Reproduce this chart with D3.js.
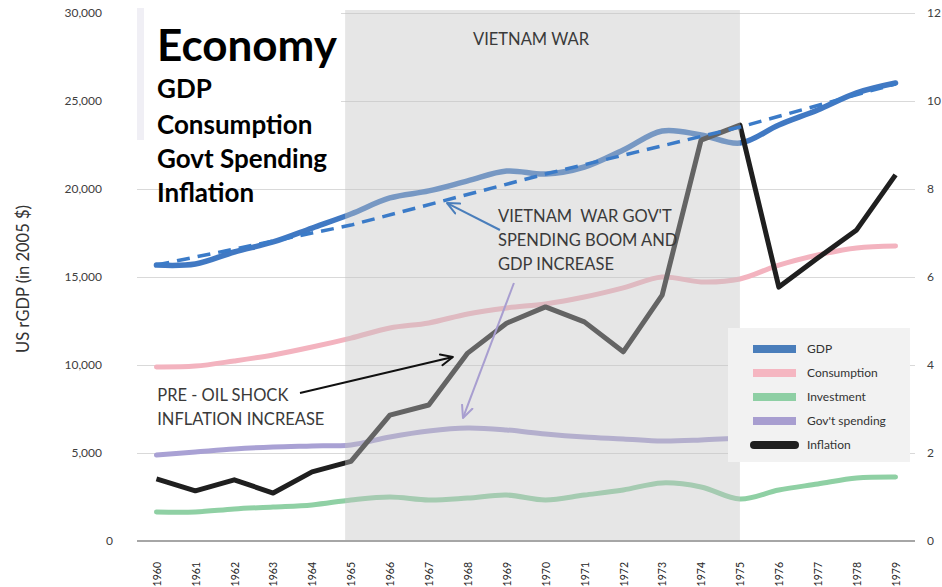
<!DOCTYPE html>
<html>
<head>
<meta charset="utf-8">
<script src="https://cdn.jsdelivr.net/npm/d3@7"></script>
<style>
  html, body { margin: 0; padding: 0; background: #ffffff; }
  svg { display: block; }
</style>
</head>
<body>
<svg id="chart" width="942" height="587"></svg>
<script>
// ---- Data -----------------------------------------------------------
const years = [1960, 1961, 1962, 1963, 1964, 1965, 1966, 1967, 1968, 1969,
               1970, 1971, 1972, 1973, 1974, 1975, 1976, 1977, 1978, 1979];

// Real GDP per capita (2005 $)
const gdp = [15680, 15740, 16420, 16990, 17780, 18580, 19490, 19890, 20460, 21020,
             20850, 21250, 22220, 23300, 23070, 22610, 23640, 24490, 25460, 26020];
const consumption = [9890, 9940, 10230, 10570, 11020, 11530, 12100, 12390, 12900, 13240,
                     13470, 13860, 14380, 15000, 14720, 14890, 15680, 16250, 16650, 16760];
const investment = [1650, 1650, 1820, 1930, 2050, 2330, 2500, 2330, 2440, 2610,
                    2330, 2610, 2900, 3300, 3070, 2390, 2900, 3240, 3580, 3640];
const govSpending = [4890, 5060, 5230, 5340, 5400, 5460, 5910, 6250, 6420, 6310,
                     6080, 5910, 5800, 5680, 5740, 5850, 5910, 5970, 6080, 6140];

// Inflation, % (right axis)
const inflation = [1.41, 1.14, 1.39, 1.09, 1.57, 1.81, 2.86, 3.09, 4.27, 4.95,
                   5.32, 4.98, 4.30, 5.59, 9.11, 9.45, 5.77, 6.43, 7.07, 8.32];

// Long-run GDP trend (dashed)
const trendYears = [1960, 1965, 1970, 1975, 1979];
const trendValues = [15680, 17950, 20850, 23520, 25970];

// Axis ticks
const leftTicks = [0, 5000, 10000, 15000, 20000, 25000, 30000];
const rightTicks = [0, 2, 4, 6, 8, 10, 12];

// Vietnam War period
const warSpan = [1964.85, 1975];

// Legend entries
const legendNames = ["GDP", "Consumption", "Investment", "Gov't spending", "Inflation"];
const legendColors = ["#4a7ebb", "#f5b6c1", "#8ecfa4", "#a89ed0", "#1f1f1f"];

// ---- Layout ---------------------------------------------------------
const svg = d3.select("#chart");
const plot = { left: 137, right: 915, top: 13, bottom: 541 };

const x = d3.scaleLinear().domain([1959.5, 1979.5]).range([plot.left, plot.right]);
const yL = d3.scaleLinear().domain([0, 30000]).range([plot.bottom, plot.top]);
const yR = d3.scaleLinear().domain([0, 12]).range([plot.bottom, plot.top]);

const bodyFont = "Lato, 'Open Sans', sans-serif";
const lineColors = {
  gdp: "#4179c3", consumption: "#f3b3bf", investment: "#8fd0a4",
  gov: "#a9a1d4", inflation: "#1f1f1f", trend: "#3b7bc8"
};

// ---- Gridlines --------------------------------------------------------
svg.append("g")
  .attr("transform", `translate(${plot.left},0)`)
  .call(d3.axisRight(yL).tickValues(leftTicks.filter(d => d > 0))
    .tickSize(plot.right - plot.left).tickFormat(""))
  .call(g => g.select(".domain").remove())
  .call(g => g.selectAll("line").attr("stroke", "#d9d9d9").attr("stroke-width", 1));

// ---- Series lines -------------------------------------------------------
const smoothLine = d3.line()
  .x((d, i) => x(years[i]))
  .y(d => yL(d))
  .curve(d3.curveCatmullRom.alpha(0.5));

const series = [
  { values: gdp, color: lineColors.gdp, width: 5.5 },
  { values: consumption, color: lineColors.consumption, width: 5 },
  { values: investment, color: lineColors.investment, width: 5 },
  { values: govSpending, color: lineColors.gov, width: 5 }
];
svg.append("g").selectAll("path").data(series).join("path")
  .attr("d", d => smoothLine(d.values))
  .attr("fill", "none")
  .attr("stroke", d => d.color)
  .attr("stroke-width", d => d.width)
  .attr("stroke-linecap", "round");

const inflationLine = d3.line()
  .x((d, i) => x(years[i]))
  .y(d => yR(d));
svg.append("path")
  .attr("d", inflationLine(inflation))
  .attr("fill", "none")
  .attr("stroke", lineColors.inflation)
  .attr("stroke-width", 5)
  .attr("stroke-linejoin", "round");

// ---- X axis baseline ------------------------------------------------------
svg.append("line")
  .attr("x1", plot.left).attr("x2", plot.right)
  .attr("y1", yL(0)).attr("y2", yL(0))
  .attr("stroke", "#a6a6a6").attr("stroke-width", 2);

// ---- Vietnam War shading (translucent veil over the series) ---------------
svg.append("rect")
  .attr("x", x(warSpan[0]))
  .attr("width", x(warSpan[1]) - x(warSpan[0]))
  .attr("y", plot.top - 3)
  .attr("height", yL(0) - plot.top + 2)
  .attr("fill", "#c4c4c4")
  .attr("fill-opacity", 0.42);

// ---- GDP trend (dashed) ----------------------------------------------------
const trendLine = d3.line()
  .x((d, i) => x(trendYears[i]))
  .y(d => yL(d));
svg.append("path")
  .attr("d", trendLine(trendValues))
  .attr("fill", "none")
  .attr("stroke", lineColors.trend)
  .attr("stroke-width", 3.5)
  .attr("stroke-dasharray", "13,8");

// ---- Arrows ------------------------------------------------------------------
const defs = svg.append("defs");
function arrowHead(id, color) {
  defs.append("marker")
    .attr("id", id)
    .attr("viewBox", "0 0 14 14")
    .attr("refX", 13).attr("refY", 7)
    .attr("markerWidth", 14).attr("markerHeight", 14)
    .attr("markerUnits", "userSpaceOnUse")
    .attr("orient", "auto")
    .append("path")
    .attr("d", "M1,1.5 L13,7 L1,12.5")
    .attr("fill", "none")
    .attr("stroke", color)
    .attr("stroke-width", 2)
    .attr("stroke-linecap", "round")
    .attr("stroke-linejoin", "round");
}
arrowHead("head-blue", "#4a7ebb");
arrowHead("head-black", "#111111");
arrowHead("head-purple", "#a89ed0");

// arrows given as [from year, from value] -> [to year, to value] on the left axis
const arrows = [
  { from: [1968.83, 17670], to: [1967.47, 19200], color: "#4a7ebb", head: "head-blue" },
  { from: [1963.69, 8410], to: [1967.62, 10450], color: "#111111", head: "head-black" },
  { from: [1969.19, 14660], to: [1967.88, 6990], color: "#a89ed0", head: "head-purple" }
];
svg.append("g").selectAll("line").data(arrows).join("line")
  .attr("x1", d => x(d.from[0])).attr("y1", d => yL(d.from[1]))
  .attr("x2", d => x(d.to[0])).attr("y2", d => yL(d.to[1]))
  .attr("stroke", d => d.color)
  .attr("stroke-width", 2)
  .attr("marker-end", d => `url(#${d.head})`);

// ---- Annotation text -----------------------------------------------------------
const notes = [
  { at: [1969.63, 28180], anchor: "middle", lines: ["VIETNAM WAR"] },
  { at: [1968.78, 18120], anchor: "start", lines: ["VIETNAM  WAR GOV'T", "SPENDING BOOM AND", "GDP INCREASE"] },
  { at: [1960.02, 7950], anchor: "start", lines: ["PRE - OIL SHOCK", "INFLATION INCREASE"] }
];
notes.forEach(n => {
  const t = svg.append("text")
    .attr("x", x(n.at[0])).attr("y", yL(n.at[1]))
    .attr("text-anchor", n.anchor)
    .attr("font-family", bodyFont)
    .attr("font-size", 16.5)
    .attr("fill", "#3a3a3a")
    .style("white-space", "pre");
  n.lines.forEach((line, i) => {
    t.append("tspan")
      .attr("x", x(n.at[0]))
      .attr("dy", i === 0 ? 0 : 24)
      .text(line);
  });
});

// ---- Title block -------------------------------------------------------------------
svg.append("rect").attr("x", 137).attr("y", 8).attr("width", 204).attr("height", 132).attr("fill", "#ffffff");
svg.append("rect").attr("x", 137).attr("y", 8).attr("width", 7).attr("height", 132).attr("fill", "#f0eff5");

const titleLines = [
  { text: "Economy", size: 44, y: 61 },
  { text: "GDP", size: 26, y: 98 },
  { text: "Consumption", size: 26, y: 134 },
  { text: "Govt Spending", size: 26, y: 168 },
  { text: "Inflation", size: 26, y: 202 }
];
svg.append("g").selectAll("text").data(titleLines).join("text")
  .attr("x", 157)
  .attr("y", d => d.y)
  .attr("font-family", bodyFont)
  .attr("font-weight", 700)
  .attr("font-size", d => d.size)
  .attr("fill", "#000000")
  .text(d => d.text);

// ---- Axes labels --------------------------------------------------------------
const leftAxis = svg.append("g")
  .attr("transform", "translate(102,0)")
  .call(d3.axisLeft(yL).tickValues(leftTicks).tickFormat(d3.format(",")).tickSize(0).tickPadding(0))
  .call(g => g.select(".domain").remove());
leftAxis.selectAll("text")
  .attr("font-family", bodyFont).attr("font-size", 12).attr("fill", "#404040")
  .attr("x", d => d === 0 ? 11 : 0);

const rightAxis = svg.append("g")
  .attr("transform", "translate(927,0)")
  .call(d3.axisRight(yR).tickValues(rightTicks).tickSize(0).tickPadding(0))
  .call(g => g.select(".domain").remove());
rightAxis.selectAll("text")
  .attr("font-family", bodyFont).attr("font-size", 12).attr("fill", "#404040");

const bottomAxis = svg.append("g")
  .attr("transform", `translate(0,${yL(0)})`)
  .call(d3.axisBottom(x).tickValues(years).tickFormat(d3.format("d")).tickSize(0))
  .call(g => g.select(".domain").remove());
bottomAxis.selectAll("text")
  .attr("transform", "rotate(-90)")
  .attr("text-anchor", "end")
  .attr("x", -21).attr("y", 0).attr("dy", "0.36em")
  .attr("font-family", bodyFont).attr("font-size", 10.5).attr("fill", "#262626");

svg.append("text")
  .attr("transform", `translate(29,${(yL(0) + yL(30000)) / 2 + 2}) rotate(-90)`)
  .attr("text-anchor", "middle")
  .attr("font-family", bodyFont)
  .attr("font-size", 16.5)
  .attr("fill", "#333333")
  .text("US rGDP (in 2005 $)");

// ---- Legend -------------------------------------------------------------------------
const legend = svg.append("g").attr("transform", "translate(728,328)");
legend.append("rect").attr("width", 182).attr("height", 134).attr("fill", "#f2f2f2");
const items = legend.selectAll("g.item").data(legendNames).join("g")
  .attr("class", "item")
  .attr("transform", (d, i) => `translate(0,${21 + i * 24})`);
items.each(function (d, i) {
  const g = d3.select(this);
  if (i === legendNames.length - 1) {
    g.append("line").attr("x1", 26).attr("x2", 67).attr("y1", 0).attr("y2", 0)
      .attr("stroke", legendColors[i]).attr("stroke-width", 8).attr("stroke-linecap", "round");
  } else {
    g.append("rect").attr("x", 25).attr("y", -4).attr("width", 43).attr("height", 8)
      .attr("fill", legendColors[i]);
  }
  g.append("text").attr("x", 79).attr("dy", "0.35em")
    .attr("font-family", bodyFont).attr("font-size", 12).attr("fill", "#333333")
    .text(d);
});
</script>
</body>
</html>
